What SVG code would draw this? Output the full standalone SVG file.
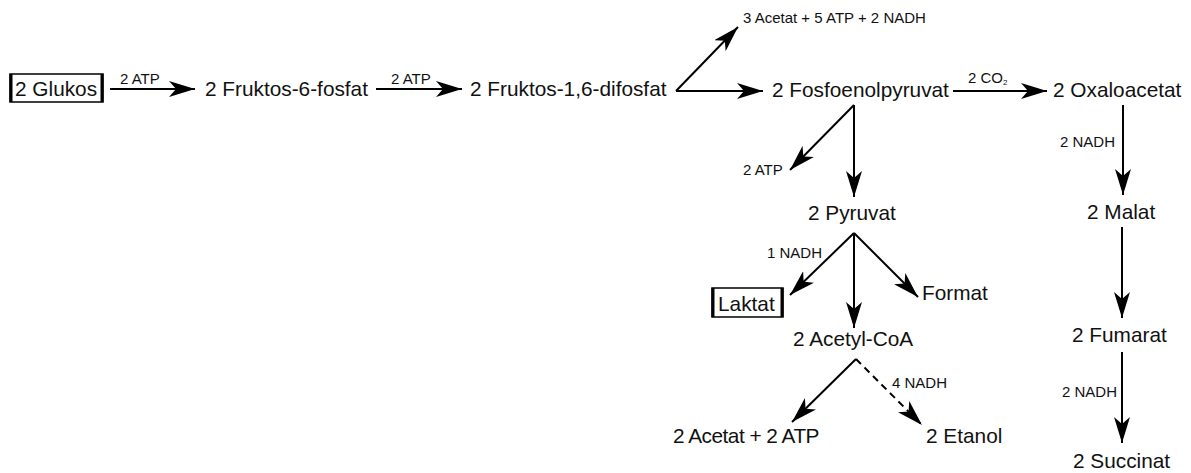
<svg xmlns="http://www.w3.org/2000/svg" width="1191" height="473" viewBox="0 0 1191 473">
<style>
text{font-family:"Liberation Sans",Arial,sans-serif;fill:#111}
.m{font-size:20.8px}
.s{font-size:15px}
.c line{stroke:#000;stroke-width:2;marker-end:url(#ah)}
.box{fill:none;stroke:#000;stroke-width:1.5}
.bar{stroke:#000;stroke-width:3}
</style>
<defs>
<marker id="ah" markerUnits="userSpaceOnUse" markerWidth="27" markerHeight="16" refX="26" refY="8" orient="auto" viewBox="0 0 27 16">
<path d="M0,0 L26,8 L0,16 L7,8 Z" fill="#000"/>
</marker>
</defs>
<g class="c" id="connectors">
<line x1="110" y1="89" x2="195" y2="89"/>
<line x1="376" y1="89" x2="462" y2="89"/>
<line x1="676" y1="91" x2="738" y2="27"/>
<line x1="676" y1="91" x2="763" y2="91"/>
<line x1="953" y1="91" x2="1047" y2="91"/>
<line x1="854" y1="105" x2="790" y2="170"/>
<line x1="854" y1="105" x2="854" y2="197"/>
<line x1="854" y1="233" x2="790" y2="295"/>
<line x1="854" y1="233" x2="854" y2="328"/>
<line x1="854" y1="233" x2="918" y2="297"/>
<line x1="856" y1="359" x2="792" y2="422"/>
<line x1="856" y1="359" x2="922" y2="425" stroke-dasharray="7,5"/>
<line x1="1123" y1="105" x2="1123" y2="195"/>
<line x1="1122" y1="227" x2="1122" y2="318"/>
<line x1="1122" y1="352" x2="1122" y2="443"/>
</g>
<g id="labels">
<text class="s" x="120" y="84">2 ATP</text>
<text class="s" x="391" y="84">2 ATP</text>
<text class="s" x="968" y="83">2 CO<tspan font-size="8" dy="2">2</tspan></text>
<text class="s" x="1060" y="147">2 NADH</text>
<text class="s" x="743" y="175">2 ATP</text>
<text class="s" x="767" y="258">1 NADH</text>
<text class="s" x="892" y="388">4 NADH</text>
<text class="s" x="1062" y="397">2 NADH</text>
</g>
<g id="glukos">
<rect class="box" x="10" y="74" width="93" height="28"/>
<line class="bar" x1="11" y1="74" x2="11" y2="102"/>
<line class="bar" x1="102" y1="74" x2="102" y2="102"/>
<text class="m" x="15" y="96">2 Glukos</text>
</g>
<g id="f6p"><text class="m" x="205" y="96">2 Fruktos-6-fosfat</text></g>
<g id="f16dp"><text class="m" x="470" y="96">2 Fruktos-1,6-difosfat</text></g>
<g id="acetat3"><text class="s" x="743" y="23">3 Acetat + 5 ATP + 2 NADH</text></g>
<g id="pep"><text class="m" x="772" y="97">2 Fosfoenolpyruvat</text></g>
<g id="oxaloacetat"><text class="m" x="1053" y="97">2 Oxaloacetat</text></g>
<g id="pyruvat"><text class="m" x="808" y="220">2 Pyruvat</text></g>
<g id="laktat">
<rect class="box" x="712" y="288" width="71" height="29"/>
<line class="bar" x1="713" y1="288" x2="713" y2="317"/>
<line class="bar" x1="782" y1="288" x2="782" y2="317"/>
<text class="m" x="718" y="311">Laktat</text>
</g>
<g id="format"><text class="m" x="922" y="300">Format</text></g>
<g id="acetylcoa"><text class="m" x="793" y="346">2 Acetyl-CoA</text></g>
<g id="acetat2"><text class="m" x="673" y="443" letter-spacing="-0.5">2 Acetat + 2 ATP</text></g>
<g id="etanol"><text class="m" x="926" y="443">2 Etanol</text></g>
<g id="malat"><text class="m" x="1087" y="219">2 Malat</text></g>
<g id="fumarat"><text class="m" x="1072" y="342">2 Fumarat</text></g>
<g id="succinat"><text class="m" x="1073" y="468">2 Succinat</text></g>
</svg>
